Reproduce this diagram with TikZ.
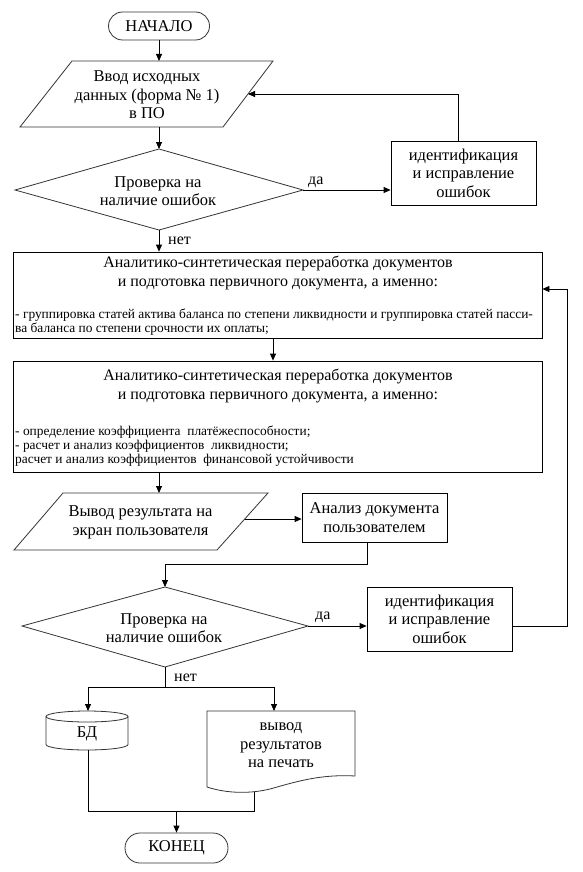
\documentclass[tikz,border=0pt]{standalone}
\usepackage{fontspec}
\setmainfont{Liberation Serif}
\usetikzlibrary{arrows.meta}
\begin{document}
\begin{tikzpicture}[x=1pt,y=-1pt,
  every node/.style={font=\fontsize{16.5}{18.5}\selectfont, inner sep=0pt},
  conn/.style={draw=black, line width=0.8pt},
  arr/.style={conn, -{Triangle[length=7pt,width=6pt]}},
  box/.style={draw=black, line width=0.8pt, rectangle},
  term/.style={draw=black!80, line width=0.8pt},
  shp/.style={draw=black!80, line width=0.8pt},
  lbl/.style={font=\fontsize{16}{17}\selectfont},
  title/.style={font=\fontsize{16}{19.5}\selectfont, align=center},
  small/.style={font=\fontsize{13.4}{14.2}\selectfont, align=left}
]
\useasboundingbox (0,0) rectangle (583,872);

% start
\node[term, minimum width=101pt, minimum height=28pt, rounded corners=14pt] (start) at (159,26) {НАЧАЛО};

% input parallelogram
\draw[shp] (72,61) -- (273,61) -- (223,127) -- (20,127) -- cycle;
\coordinate (in1top) at (159,61);
\coordinate (in1bot) at (159,127);
\coordinate (in1r) at (248,94);
\node[align=center] (in1) at (147,95) {Ввод исходных\\данных (форма № 1)\\в ПО};
\draw[arr] (start.south) -- (in1top);

% decision 1
\draw[shp] (159,149) -- (303,190) -- (159,230) -- (15,190) -- cycle;
\coordinate (d1top) at (159,149);
\coordinate (d1r) at (303,190);
\coordinate (d1bot) at (159,230);
\node[align=center] (d1) at (158,191) {Проверка на\\наличие ошибок};
\draw[arr] (in1bot) -- (d1top);

% fix 1
\node[box, minimum width=145pt, minimum height=64pt, align=center] (fix1) at (463.5,173) {идентификация\\и исправление\\ошибок};
\draw[arr] (d1r) -- (d1r -| fix1.west);
\node[lbl, anchor=west] (yes1) at (308,182) {да};
\draw[arr] ([xshift=-5.5pt]fix1.north) |- (in1r);

% process 1
\node[box, minimum width=529pt, minimum height=86pt] (p1) at (277.5,295) {};
\node[title] (p1t) at (278,273) {Аналитико-синтетическая переработка документов\\и подготовка первичного документа, а именно:};
\node[small, anchor=west] (p1b) at (15,322.5) {- группировка статей актива баланса по степени ликвидности и группировка статей пасси-\\ва баланса по степени срочности их оплаты;};
\draw[arr] (d1bot) -- (d1bot |- p1.north);
\node[lbl, anchor=west] (no1) at (168,241) {нет};

% process 2
\node[box, minimum width=529pt, minimum height=111pt] (p2) at (277.5,416.5) {};
\node[title] (p2t) at (278,386) {Аналитико-синтетическая переработка документов\\и подготовка первичного документа, а именно:};
\node[small, anchor=west] (p2b) at (15,446) {- определение коэффициента\ \ платёжеспособности;\\- расчет и анализ коэффициентов\ \ ликвидности;\\расчет и анализ коэффициентов\ \ финансовой устойчивости};
\draw[arr] ([xshift=-4.5pt]p1.south) -- ([xshift=-4.5pt]p2.north);

% output parallelogram
\draw[shp] (63,493) -- (268,493) -- (217,550) -- (14,550) -- cycle;
\coordinate (out2top) at (159,493);
\coordinate (out2r) at (245,519);
\node[align=center] (out2) at (140.5,522.5) {Вывод результата на\\экран пользователя};
\draw[arr] (p2.south -| out2top) -- (out2top);

% analysis
\node[box, minimum width=145pt, minimum height=49pt, align=center] (an) at (374.5,517.5) {Анализ документа\\пользователем};
\draw[arr] (out2r) -- (out2r -| an.west);

% decision 2
\draw[shp] (165,587) -- (308,626) -- (165,667) -- (22,626) -- cycle;
\coordinate (d2top) at (165,587);
\coordinate (d2r) at (308,626);
\coordinate (d2bot) at (165,667);
\node[align=center] (d2) at (164,628) {Проверка на\\наличие ошибок};
\draw[arr] ([xshift=-7.5pt]an.south) -- ++(0,22) -| (d2top);

% fix 2
\node[box, minimum width=145pt, minimum height=64pt, align=center] (fix2) at (439.5,619) {идентификация\\и исправление\\ошибок};
\draw[arr] (d2r) -- (d2r -| fix2.west);
\node[lbl, anchor=west] (yes2) at (315,617) {да};
\draw[arr] (d2r -| fix2.east) -- ++(55,0) |- ([yshift=6pt]p1.east);

% split
\node[lbl, anchor=west] (no2) at (174,678) {нет};
\coordinate (split) at (165,687);
\draw[conn] (d2bot) -- (split);

% database cylinder
\coordinate (dbtop) at (88,711);
\coordinate (dbbot) at (88,750);
\draw[shp] (87,716.5) ellipse [x radius=41pt, y radius=5.5pt];
\draw[shp] (46,716.5) -- (46,744.5) arc[start angle=180, end angle=360, x radius=41pt, y radius=5.5pt] -- (128,716.5);
\node (db) at (87,734) {БД};

% document
\coordinate (doctop) at (274,711);
\coordinate (docbot) at (254,792);
\draw[shp] (207,787) -- (207,711) -- (355,711) -- (355,776) .. controls (320,774) and (295,782) .. (270,789) .. controls (245,795) and (222,792) .. (207,787);
\node[align=center] (doc) at (281,745.5) {вывод\\результатов\\на печать};

\draw[arr] (split) -| (dbtop);
\draw[arr] (split) -| (doctop);

% end
\node[term, minimum width=103pt, minimum height=30pt, rounded corners=15pt] (end) at (176.5,848) {КОНЕЦ};
\coordinate (merge) at (176.5,811);
\draw[conn] (dbbot) -- (dbbot |- merge) -- (merge -| docbot) -- (docbot);
\draw[arr] (merge) -- (end.north);
\end{tikzpicture}
\end{document}
